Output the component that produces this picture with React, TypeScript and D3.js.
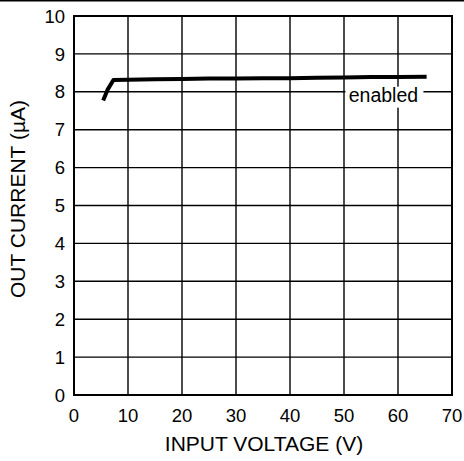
import React, { useRef, useEffect } from 'react';
import * as d3 from 'd3';

// Input voltage (V) vs out current (µA)
const inputVoltage = [5.4, 6.2, 7.3, 10, 15, 20, 25, 30, 35, 40, 45, 50, 55, 60, 65.3];
const outCurrent = [7.77, 8.05, 8.31, 8.32, 8.33, 8.34, 8.35, 8.35, 8.36, 8.36, 8.37, 8.38, 8.39, 8.39, 8.40];

const xTicks = [0, 10, 20, 30, 40, 50, 60, 70];
const yTicks = [0, 1, 2, 3, 4, 5, 6, 7, 8, 9, 10];

const curveLabel = 'enabled';
const xTitle = 'INPUT VOLTAGE (V)';
const yTitle = 'OUT CURRENT (\u00B5A)';

type Point = [number, number];

const App: React.FC = () => {
  const ref = useRef<SVGSVGElement | null>(null);

  const width = 464;
  const height = 461;
  const margin = { top: 16, right: 12, bottom: 66, left: 74 };

  useEffect(() => {
    document.body.style.margin = '0';
    if (!ref.current) return;

    const svg = d3.select(ref.current);
    svg.selectAll('*').remove();

    const font = 'Liberation Sans, Arial, sans-serif';

    const x = d3.scaleLinear().domain([0, 70]).range([margin.left, width - margin.right]);
    const y = d3.scaleLinear().domain([0, 10]).range([height - margin.bottom, margin.top]);

    svg.append('rect').attr('width', width).attr('height', height).attr('fill', '#fff');

    // frame line on top of the image
    svg.append('line')
      .attr('x1', 0).attr('x2', width)
      .attr('y1', 0.5).attr('y2', 0.5)
      .attr('stroke', '#000').attr('stroke-width', 2);

    // grid
    const grid = svg.append('g');
    grid.selectAll('line.v')
      .data(xTicks)
      .join('line')
      .attr('class', 'v')
      .attr('x1', (d) => x(d)).attr('x2', (d) => x(d))
      .attr('y1', y(0)).attr('y2', y(10))
      .attr('stroke', '#000').attr('stroke-width', 1.4);
    grid.selectAll('line.h')
      .data(yTicks)
      .join('line')
      .attr('class', 'h')
      .attr('y1', (d) => y(d)).attr('y2', (d) => y(d))
      .attr('x1', x(0)).attr('x2', x(70))
      .attr('stroke', '#000').attr('stroke-width', 1.4);

    // plot border
    svg.append('rect')
      .attr('x', x(0)).attr('y', y(10))
      .attr('width', x(70) - x(0)).attr('height', y(0) - y(10))
      .attr('fill', 'none').attr('stroke', '#000').attr('stroke-width', 2);

    // tick labels
    svg.append('g').selectAll('text')
      .data(xTicks)
      .join('text')
      .attr('x', (d) => x(d))
      .attr('y', y(0) + 27)
      .attr('text-anchor', 'middle')
      .attr('font-family', font).attr('font-size', 18.5)
      .text((d) => d);

    svg.append('g').selectAll('text')
      .data(yTicks)
      .join('text')
      .attr('x', x(0) - 9)
      .attr('y', (d) => y(d))
      .attr('dy', '0.36em')
      .attr('text-anchor', 'end')
      .attr('font-family', font).attr('font-size', 18.5)
      .text((d) => d);

    // curve
    const points: Point[] = inputVoltage.map((v, i) => [v, outCurrent[i]]);
    const line = d3.line<Point>()
      .x((d) => x(d[0]))
      .y((d) => y(d[1]));
    svg.append('path')
      .datum(points)
      .attr('d', line)
      .attr('fill', 'none')
      .attr('stroke', '#000')
      .attr('stroke-width', 4)
      .attr('stroke-linejoin', 'round');

    // curve label with white box over the grid
    const lbl = svg.append('g').attr('transform', `translate(${x(57.3)},${y(7.74)})`);
    lbl.append('rect')
      .attr('x', -38).attr('y', -15)
      .attr('width', 78).attr('height', 21)
      .attr('fill', '#fff');
    lbl.append('text')
      .attr('text-anchor', 'middle')
      .attr('font-family', font).attr('font-size', 19.5)
      .text(curveLabel);

    // axis titles
    svg.append('text')
      .attr('x', (x(0) + x(70)) / 2 + 1)
      .attr('y', height - 10)
      .attr('text-anchor', 'middle')
      .attr('font-family', font).attr('font-size', 21)
      .text(xTitle);

    svg.append('text')
      .attr('transform', `translate(25,199) rotate(-90)`)
      .attr('text-anchor', 'middle')
      .attr('font-family', font).attr('font-size', 21)
      .text(yTitle);
  }, []);

  return (
    <svg
      ref={ref}
      width={width}
      height={height}
      style={{ display: 'block' }}
      aria-label="Out current vs input voltage"
    />
  );
};

export default App;
